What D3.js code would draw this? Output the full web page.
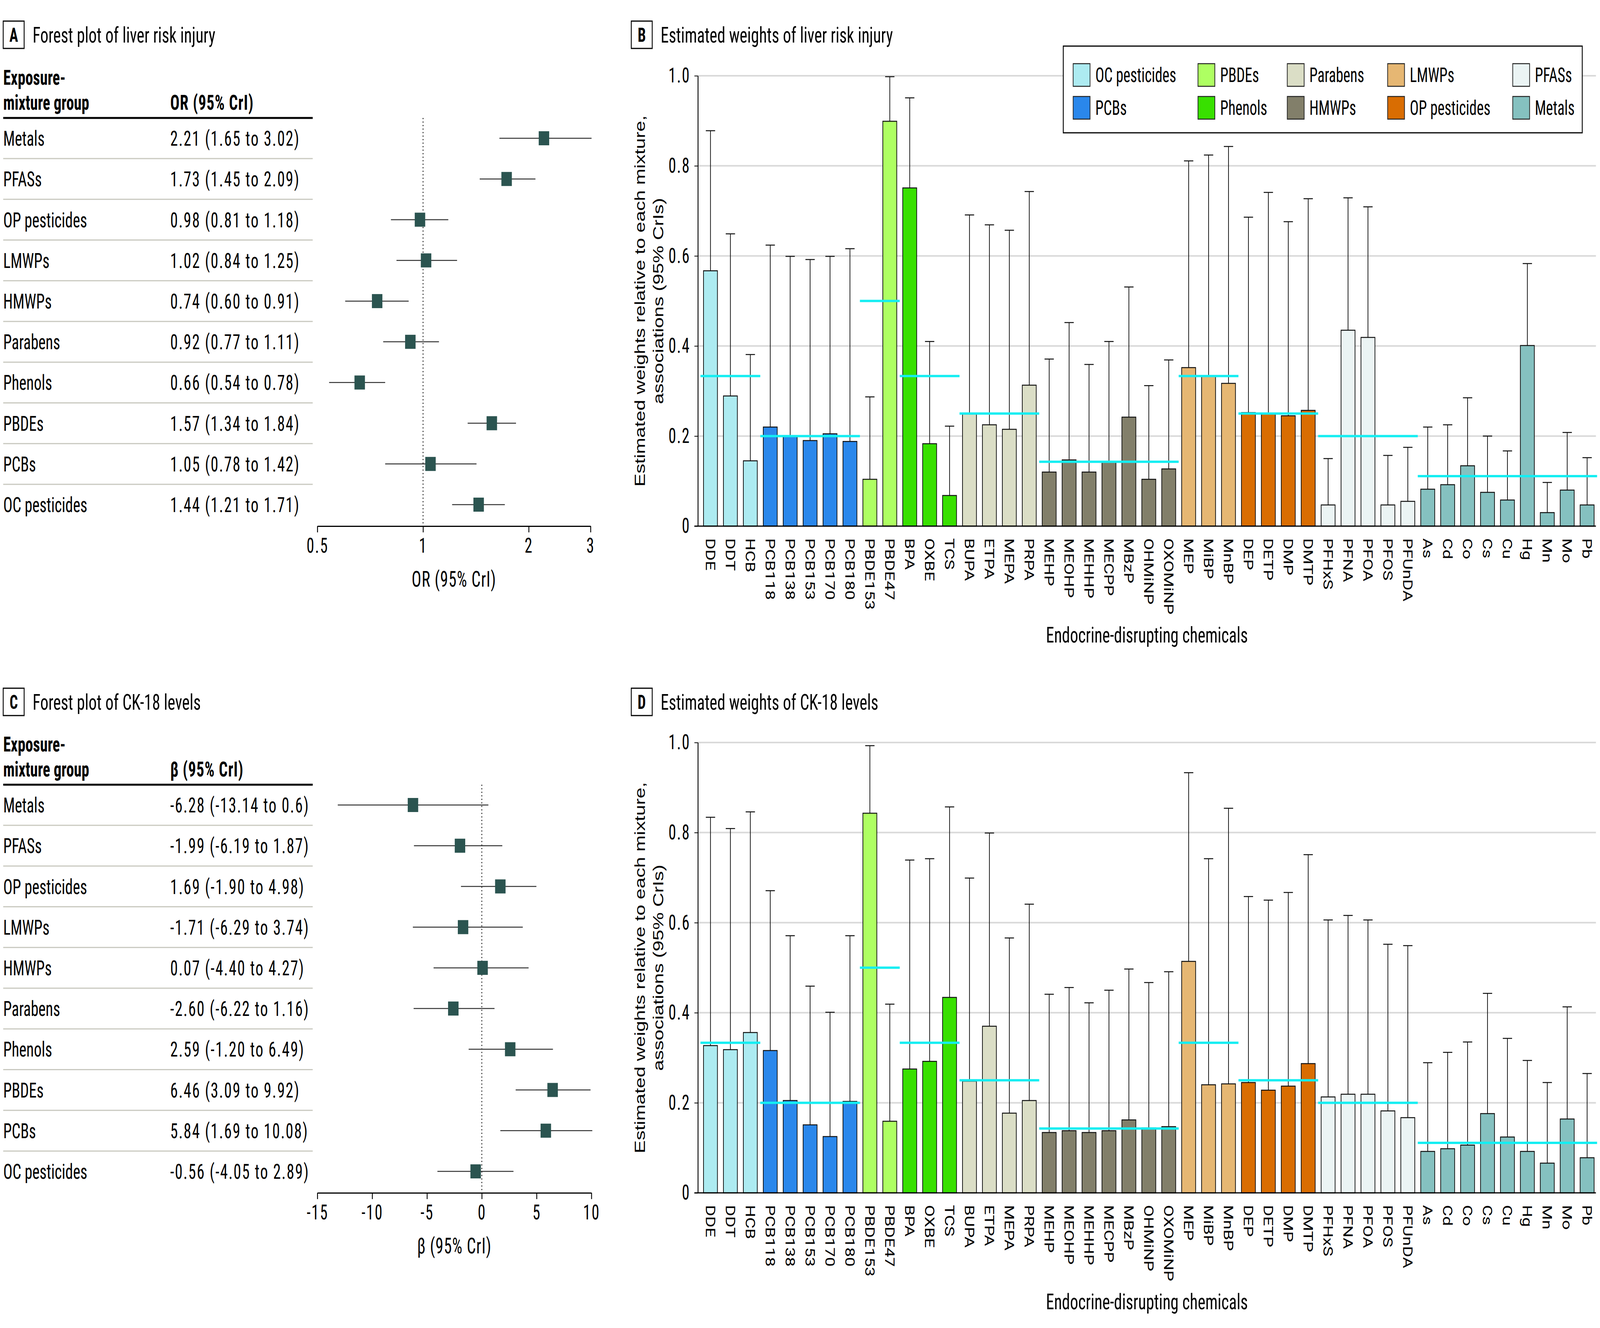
<!DOCTYPE html>
<html lang="en">
<head>
<meta charset="utf-8">
<title>Forest plots and estimated weights</title>
<script src="https://cdn.jsdelivr.net/npm/d3@7"></script>
<style>
  html, body { margin: 0; padding: 0; background: #fff; overflow: hidden; }
  svg { display: block; }
</style>
</head>
<body>
<script>
// ---- data ----
const mixtureGroups = ["Metals", "PFASs", "OP pesticides", "LMWPs", "HMWPs", "Parabens", "Phenols", "PBDEs", "PCBs", "OC pesticides"];

const liverOR     = [2.21, 1.73, 0.98, 1.02, 0.74, 0.92, 0.66, 1.57, 1.05, 1.44];
const liverORLow  = [1.65, 1.45, 0.81, 0.84, 0.60, 0.77, 0.54, 1.34, 0.78, 1.21];
const liverORHigh = [3.02, 2.09, 1.18, 1.25, 0.91, 1.11, 0.78, 1.84, 1.42, 1.71];
const liverORText = ["2.21 (1.65 to 3.02)", "1.73 (1.45 to 2.09)", "0.98 (0.81 to 1.18)", "1.02 (0.84 to 1.25)",
  "0.74 (0.60 to 0.91)", "0.92 (0.77 to 1.11)", "0.66 (0.54 to 0.78)", "1.57 (1.34 to 1.84)",
  "1.05 (0.78 to 1.42)", "1.44 (1.21 to 1.71)"];

const ck18Beta     = [-6.28, -1.99, 1.69, -1.71, 0.07, -2.60, 2.59, 6.46, 5.84, -0.56];
const ck18BetaLow  = [-13.14, -6.19, -1.90, -6.29, -4.40, -6.22, -1.20, 3.09, 1.69, -4.05];
const ck18BetaHigh = [0.6, 1.87, 4.98, 3.74, 4.27, 1.16, 6.49, 9.92, 10.08, 2.89];
const ck18BetaText = ["-6.28 (-13.14 to 0.6)", "-1.99 (-6.19 to 1.87)", "1.69 (-1.90 to 4.98)", "-1.71 (-6.29 to 3.74)",
  "0.07 (-4.40 to 4.27)", "-2.60 (-6.22 to 1.16)", "2.59 (-1.20 to 6.49)", "6.46 (3.09 to 9.92)",
  "5.84 (1.69 to 10.08)", "-0.56 (-4.05 to 2.89)"];

const orTicks = [0.5, 1, 2, 3];
const orTickLabels = ["0.5", "1", "2", "3"];
const betaTicks = [-15, -10, -5, 0, 5, 10];
const betaTickLabels = ["-15", "-10", "-5", "0", "5", "10"];

const chemGroupNames = ["OC pesticides", "PCBs", "PBDEs", "Phenols", "Parabens", "HMWPs", "LMWPs", "OP pesticides", "PFASs", "Metals"];

const chemicals = ["DDE", "DDT", "HCB", "PCB118", "PCB138", "PCB153", "PCB170", "PCB180", "PBDE153", "PBDE47",
  "BPA", "OXBE", "TCS", "BUPA", "ETPA", "MEPA", "PRPA", "MEHP", "MEOHP", "MEHHP", "MECPP", "MBzP", "OHMiNP", "OXOMiNP",
  "MEP", "MiBP", "MnBP", "DEP", "DETP", "DMP", "DMTP", "PFHxS", "PFNA", "PFOA", "PFOS", "PFUnDA",
  "As", "Cd", "Co", "Cs", "Cu", "Hg", "Mn", "Mo", "Pb"];

const chemGroup = ["OC pesticides", "OC pesticides", "OC pesticides",
  "PCBs", "PCBs", "PCBs", "PCBs", "PCBs",
  "PBDEs", "PBDEs",
  "Phenols", "Phenols", "Phenols",
  "Parabens", "Parabens", "Parabens", "Parabens",
  "HMWPs", "HMWPs", "HMWPs", "HMWPs", "HMWPs", "HMWPs", "HMWPs",
  "LMWPs", "LMWPs", "LMWPs",
  "OP pesticides", "OP pesticides", "OP pesticides", "OP pesticides",
  "PFASs", "PFASs", "PFASs", "PFASs", "PFASs",
  "Metals", "Metals", "Metals", "Metals", "Metals", "Metals", "Metals", "Metals", "Metals"];

const liverWeight = [0.567, 0.289, 0.145, 0.220, 0.200, 0.190, 0.205, 0.188, 0.104, 0.899,
  0.751, 0.183, 0.068, 0.249, 0.225, 0.215, 0.313, 0.120, 0.147, 0.120, 0.142, 0.242, 0.104, 0.127,
  0.352, 0.334, 0.317, 0.252, 0.249, 0.245, 0.257, 0.047, 0.435, 0.419, 0.047, 0.055,
  0.082, 0.092, 0.134, 0.075, 0.058, 0.401, 0.030, 0.080, 0.047];
const liverUpper = [0.878, 0.649, 0.381, 0.624, 0.599, 0.592, 0.599, 0.616, 0.287, 0.998,
  0.951, 0.410, 0.222, 0.691, 0.669, 0.657, 0.743, 0.371, 0.452, 0.359, 0.410, 0.531, 0.312, 0.369,
  0.811, 0.824, 0.843, 0.686, 0.741, 0.676, 0.727, 0.150, 0.729, 0.709, 0.157, 0.175,
  0.220, 0.225, 0.285, 0.200, 0.167, 0.583, 0.097, 0.208, 0.152];

const ck18Weight = [0.327, 0.318, 0.356, 0.316, 0.205, 0.151, 0.125, 0.203, 0.843, 0.159,
  0.275, 0.292, 0.434, 0.248, 0.370, 0.177, 0.205, 0.134, 0.138, 0.134, 0.138, 0.162, 0.144, 0.147,
  0.514, 0.240, 0.242, 0.245, 0.228, 0.237, 0.287, 0.213, 0.219, 0.219, 0.182, 0.167,
  0.092, 0.098, 0.106, 0.176, 0.124, 0.092, 0.066, 0.164, 0.078];
const ck18Upper = [0.834, 0.809, 0.846, 0.671, 0.571, 0.459, 0.401, 0.571, 0.993, 0.419,
  0.739, 0.742, 0.857, 0.699, 0.799, 0.566, 0.641, 0.441, 0.456, 0.422, 0.450, 0.497, 0.467, 0.491,
  0.933, 0.742, 0.854, 0.658, 0.650, 0.667, 0.751, 0.606, 0.616, 0.606, 0.552, 0.549,
  0.289, 0.312, 0.335, 0.443, 0.343, 0.294, 0.245, 0.413, 0.265];

const weightTicks = [0, 0.2, 0.4, 0.6, 0.8, 1.0];
const weightTickLabels = ["0", "0.2", "0.4", "0.6", "0.8", "1.0"];

// ---- styles ----
const groupColors = ["#ADEBF1", "#2A87EB", "#AEFF62", "#38E000", "#DBDEC6", "#827F6A", "#E6B773", "#D96D02", "#EBF4F4", "#85C1C0"];
const color = d3.scaleOrdinal(chemGroupNames, groupColors);

const COND = "'Roboto Condensed', 'Open Sans Condensed', 'DejaVu Sans Condensed', sans-serif";
const ROBO = "Roboto, 'Liberation Sans', sans-serif";
const SANS = "'Liberation Sans', Arial, sans-serif";
const squareColor = "#2B5450";
const refColor = "#14EEF2";

// layout is drawn in a 5500 x 3400 frame and stretched to the window
const W = 5500, H = 3400;
const ROW2 = 1707; // vertical offset of the lower panels

let svg = d3.select("body")
  .append("svg")
  .attr("width", window.innerWidth || W)
  .attr("height", window.innerHeight || H)
  .attr("viewBox", `0 0 ${W} ${H}`)
  .attr("preserveAspectRatio", "none")
  .attr("style", "background-color:white");

function panelTitle(y, x, letter, text) {
  let g = svg.append("g");
  g.append("rect")
    .attr("x", x).attr("y", y - 35)
    .attr("width", 72).attr("height", 70)
    .attr("fill", "none").attr("stroke", "#000").attr("stroke-width", 3);
  g.append("text")
    .attr("x", x + 36).attr("y", y).attr("dy", "0.36em")
    .attr("text-anchor", "middle")
    .attr("font-family", COND).attr("font-weight", "bold").attr("font-size", 50)
    .text(letter);
  g.append("text")
    .attr("x", x + 101).attr("y", y).attr("dy", "0.36em")
    .attr("font-family", COND).attr("font-size", 56)
    .text(text);
}

// ---- forest plot with its table ----
function forest(off, est, low, high, labels, headLabel, x, ticks, tickLabels, refValue, axisTitle) {
  let g = svg.append("g").attr("transform", `translate(0,${off})`);
  let rowY = d3.scalePoint(mixtureGroups, [354, 1292]);
  let step = rowY.step();

  g.append("text").attr("x", 11).attr("y", 198).attr("dy", "0.36em")
    .attr("font-family", COND).attr("font-weight", "bold").attr("font-size", 53)
    .text("Exposure-");
  g.append("text").attr("x", 11).attr("y", 262).attr("dy", "0.36em")
    .attr("font-family", COND).attr("font-weight", "bold").attr("font-size", 53)
    .text("mixture group");
  g.append("text").attr("x", 585).attr("y", 262).attr("dy", "0.36em")
    .attr("font-family", COND).attr("font-weight", "bold").attr("font-size", 53)
    .attr("letter-spacing", 1.5)
    .text(headLabel);

  g.append("line").attr("x1", 11).attr("x2", 1075).attr("y1", 302).attr("y2", 302)
    .attr("stroke", "#000").attr("stroke-width", 5);

  g.selectAll("line.sep")
    .data(mixtureGroups.slice(1))
    .join("line")
    .attr("class", "sep")
    .attr("x1", 11).attr("x2", 1075)
    .attr("y1", d => rowY(d) - step / 2).attr("y2", d => rowY(d) - step / 2)
    .attr("stroke", "#c9c9c0").attr("stroke-width", 3);

  g.selectAll("text.row")
    .data(mixtureGroups)
    .join("text")
    .attr("class", "row")
    .attr("x", 11).attr("y", d => rowY(d)).attr("dy", "0.36em")
    .attr("font-family", COND).attr("font-size", 53)
    .text(d => d);

  g.selectAll("text.val")
    .data(labels)
    .join("text")
    .attr("class", "val")
    .attr("x", 585).attr("y", (d, i) => rowY(mixtureGroups[i])).attr("dy", "0.36em")
    .attr("font-family", COND).attr("font-size", 53)
    .attr("letter-spacing", 3)
    .text(d => d);

  // null-effect line
  g.append("line")
    .attr("x1", x(refValue)).attr("x2", x(refValue))
    .attr("y1", 302).attr("y2", 1347)
    .attr("stroke", "#222").attr("stroke-width", 3)
    .attr("stroke-dasharray", "3,6");

  g.selectAll("line.ci")
    .data(mixtureGroups)
    .join("line")
    .attr("class", "ci")
    .attr("x1", (d, i) => x(low[i])).attr("x2", (d, i) => x(high[i]))
    .attr("y1", d => rowY(d)).attr("y2", d => rowY(d))
    .attr("stroke", "#333").attr("stroke-width", 2.5);

  g.selectAll("rect.est")
    .data(mixtureGroups)
    .join("rect")
    .attr("class", "est")
    .attr("x", (d, i) => x(est[i]) - 18).attr("y", d => rowY(d) - 18)
    .attr("width", 36).attr("height", 36)
    .attr("fill", squareColor);

  let axis = g.append("g")
    .attr("transform", "translate(0,1347)")
    .call(d3.axisBottom(x).tickValues(ticks).tickFormat((d, i) => tickLabels[i]).tickSize(16).tickSizeOuter(0).tickPadding(14));
  axis.select(".domain").attr("stroke", "#000").attr("stroke-width", 3);
  axis.selectAll(".tick line").attr("stroke", "#000").attr("stroke-width", 3);
  axis.selectAll(".tick text").attr("font-family", COND).attr("font-size", 53)
    .attr("letter-spacing", 3).attr("fill", "#000");

  g.append("text")
    .attr("x", (x.range()[0] + x.range()[1]) / 2).attr("y", 1482).attr("dy", "0.36em")
    .attr("text-anchor", "middle")
    .attr("font-family", COND).attr("font-size", 55)
    .attr("letter-spacing", 1.5)
    .text(axisTitle);
}

// ---- weights bar chart ----
let xBand = d3.scaleBand(chemicals, [2408, 5490]).paddingInner(0.3).paddingOuter(0.15);
const axisX = 2399, gridEnd = 5486;

function weights(off, vals, upper, withLegend) {
  let g = svg.append("g").attr("transform", `translate(0,${off})`);
  let y = d3.scaleLinear([0, 1], [1347, 194]);
  let bw = xBand.bandwidth();
  let pad = xBand.step() * xBand.paddingInner() / 2;

  g.selectAll("line.grid")
    .data(weightTicks.slice(1))
    .join("line")
    .attr("class", "grid")
    .attr("x1", axisX).attr("x2", gridEnd)
    .attr("y1", d => y(d)).attr("y2", d => y(d))
    .attr("stroke", "#d9d9d9").attr("stroke-width", 4);

  g.selectAll("rect.bar")
    .data(chemicals)
    .join("rect")
    .attr("class", "bar")
    .attr("x", d => xBand(d)).attr("width", bw)
    .attr("y", (d, i) => y(vals[i])).attr("height", (d, i) => y(0) - y(vals[i]))
    .attr("fill", (d, i) => color(chemGroup[i]))
    .attr("stroke", "#111").attr("stroke-width", 2.5);

  g.selectAll("line.err")
    .data(chemicals)
    .join("line")
    .attr("class", "err")
    .attr("x1", d => xBand(d) + bw / 2).attr("x2", d => xBand(d) + bw / 2)
    .attr("y1", (d, i) => y(vals[i])).attr("y2", (d, i) => y(upper[i]))
    .attr("stroke", "#111").attr("stroke-width", 2.5);

  g.selectAll("line.cap")
    .data(chemicals)
    .join("line")
    .attr("class", "cap")
    .attr("x1", d => xBand(d) + bw / 2 - 16).attr("x2", d => xBand(d) + bw / 2 + 16)
    .attr("y1", (d, i) => y(upper[i])).attr("y2", (d, i) => y(upper[i]))
    .attr("stroke", "#111").attr("stroke-width", 2.5);

  // equal-weight reference line per group (1 / group size)
  let groups = chemGroupNames.map(name => {
    let members = chemicals.filter((c, i) => chemGroup[i] === name);
    return { name, first: members[0], last: members[members.length - 1], n: members.length };
  });
  g.selectAll("line.ref")
    .data(groups)
    .join("line")
    .attr("class", "ref")
    .attr("x1", d => xBand(d.first) - pad).attr("x2", d => xBand(d.last) + bw + pad)
    .attr("y1", d => y(1 / d.n)).attr("y2", d => y(1 / d.n))
    .attr("stroke", refColor).attr("stroke-width", 6);

  // axes
  let yAxis = g.append("g")
    .attr("transform", `translate(${axisX},0)`)
    .call(d3.axisLeft(y).tickValues(weightTicks).tickFormat((d, i) => weightTickLabels[i]).tickSize(12).tickSizeOuter(0).tickPadding(14));
  yAxis.select(".domain").attr("stroke", "#000").attr("stroke-width", 3);
  yAxis.selectAll(".tick line").attr("stroke", "#000").attr("stroke-width", 2);
  yAxis.selectAll(".tick text").attr("font-family", COND).attr("font-size", 53)
    .attr("letter-spacing", 3).attr("fill", "#000");

  g.append("line")
    .attr("x1", axisX - 12).attr("x2", gridEnd)
    .attr("y1", y(0)).attr("y2", y(0))
    .attr("stroke", "#000").attr("stroke-width", 3);

  g.selectAll("text.chem")
    .data(chemicals)
    .join("text")
    .attr("class", "chem")
    .attr("transform", d => `translate(${xBand(d) + bw / 2},${y(0) + 31}) rotate(90)`)
    .attr("dy", "0.36em")
    .attr("font-family", ROBO).attr("font-size", 44)
    .text(d => d);

  let yMid = (y(0) + y(1)) / 2;
  g.append("text")
    .attr("transform", `translate(2199,${yMid}) rotate(-90)`)
    .attr("dy", "0.36em").attr("text-anchor", "middle")
    .attr("font-family", SANS).attr("font-size", 50)
    .text("Estimated weights relative to each mixture,");
  g.append("text")
    .attr("transform", `translate(2262,${yMid}) rotate(-90)`)
    .attr("dy", "0.36em").attr("text-anchor", "middle")
    .attr("font-family", SANS).attr("font-size", 50)
    .text("associations (95% CrIs)");

  g.append("text")
    .attr("x", (axisX + gridEnd) / 2).attr("y", 1625).attr("dy", "0.36em")
    .attr("text-anchor", "middle")
    .attr("font-family", COND).attr("font-size", 56)
    .text("Endocrine-disrupting chemicals");

  if (withLegend) legend(g);
}

function legend(g) {
  g.append("rect")
    .attr("x", 3655).attr("y", 118).attr("width", 1784).attr("height", 222)
    .attr("fill", "#fff").attr("stroke", "#000").attr("stroke-width", 3);
  let rowsY = [192, 276];
  let colX = [3689, 4118, 4425, 4770, 5200];
  chemGroupNames.forEach((name, k) => {
    let cx = colX[Math.floor(k / 2)], cy = rowsY[k % 2];
    g.append("rect")
      .attr("x", cx).attr("y", cy - 29)
      .attr("width", 58).attr("height", 58)
      .attr("fill", color(name)).attr("stroke", "#222").attr("stroke-width", 2.5);
    g.append("text")
      .attr("x", cx + 76).attr("y", cy).attr("dy", "0.36em")
      .attr("font-family", COND).attr("font-size", 51)
      .text(name);
  });
}

panelTitle(89, 11, "A", "Forest plot of liver risk injury");
panelTitle(89, 2170, "B", "Estimated weights of liver risk injury");
panelTitle(89 + ROW2 + 1, 11, "C", "Forest plot of CK-18 levels");
panelTitle(89 + ROW2 + 1, 2170, "D", "Estimated weights of CK-18 levels");

let xOR = d3.scaleLog([0.5, 3], [1091, 2030]);
let xBeta = d3.scaleLinear([-15, 10], [1091, 2033]);

forest(0, liverOR, liverORLow, liverORHigh, liverORText, "OR (95% CrI)", xOR, orTicks, orTickLabels, 1, "OR (95% CrI)");
forest(ROW2, ck18Beta, ck18BetaLow, ck18BetaHigh, ck18BetaText, "β (95% CrI)", xBeta, betaTicks, betaTickLabels, 0, "β (95% CrI)");

weights(0, liverWeight, liverUpper, true);
weights(ROW2, ck18Weight, ck18Upper, false);
</script>
</body>
</html>
